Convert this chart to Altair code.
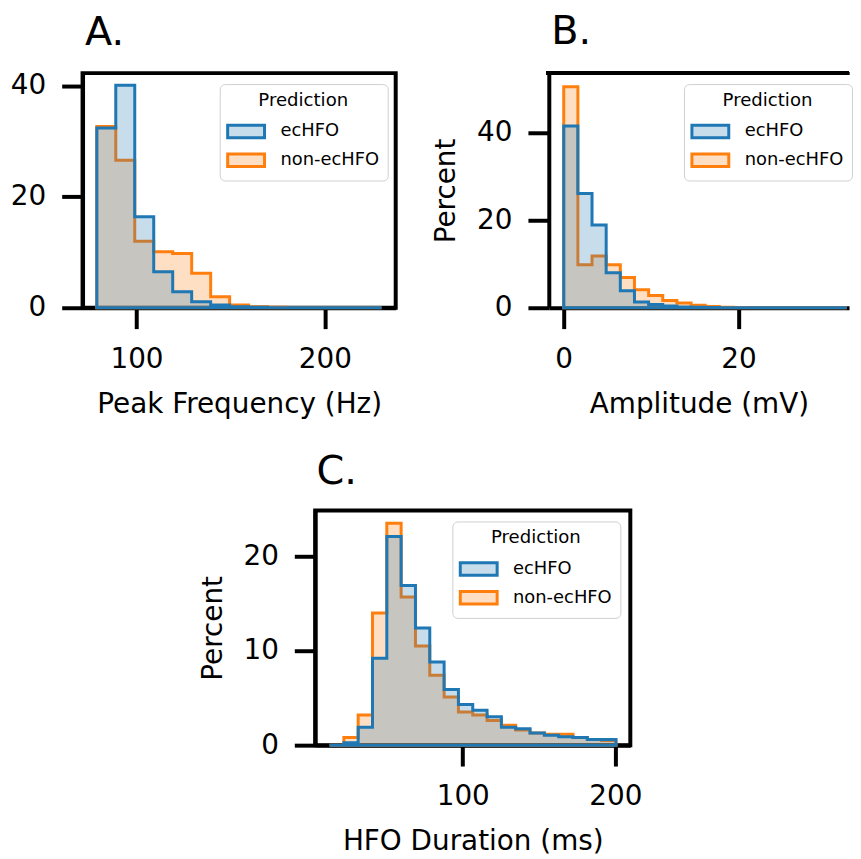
import altair as alt
import pandas as pd

# ---------------- data (percent per histogram bin) ----------------
series_names = ["ecHFO", "non-ecHFO"]
series_colors = ["#1f77b4", "#ff7f0e"]
series_fills = ["rgba(31,119,180,0.25)", "rgba(255,127,14,0.25)"]

# Panel A: Peak Frequency (Hz)
a_start, a_width = 78.9, 10.08
a_echfo = [32.4, 40.1, 16.4, 6.5, 2.9, 1.1, 0.5, 0.2, 0.1, 0.0, 0.0, 0.0, 0.0, 0.0, 0.0]
a_non = [32.7, 26.6, 12.0, 10.1, 9.8, 6.2, 2.0, 0.5, 0.2, 0.1, 0.0, 0.0, 0.0, 0.0, 0.0]
a_xdomain = [71.34, 237.66]
a_ydomain = [0, 42.3]
a_xticks = [100, 200]
a_yticks = [0, 20, 40]

# Panel B: Amplitude (mV)
b_start, b_width = 0.0, 1.62
b_echfo = [41.5, 26.1, 18.9, 8.0, 3.9, 1.3, 0.75, 0.4, 0.2, 0.1, 0.05, 0.0,
           0.0, 0.0, 0.0, 0.0, 0.0, 0.0, 0.0, 0.0]
b_non = [50.5, 9.8, 11.8, 9.8, 6.9, 4.1, 2.8, 1.65, 1.1, 0.6, 0.3, 0.1,
         0.05, 0.0, 0.0, 0.0, 0.0, 0.0, 0.0, 0.0]
b_xdomain = [-1.71, 32.67]
b_ydomain = [0, 53.6]
b_xticks = [0, 20]
b_yticks = [0, 20, 40]

# Panel C: HFO Duration (ms)
c_start, c_width = 12.7, 9.385
c_echfo = [0.0, 0.25, 1.9, 9.2, 22.1, 16.9, 12.4, 8.8, 5.9, 4.3, 3.7, 3.0,
           1.9, 1.75, 1.3, 1.05, 0.9, 0.8, 0.6, 0.6]
c_non = [0.0, 0.8, 3.2, 14.0, 23.5, 15.7, 10.5, 7.4, 5.1, 3.5, 3.2, 2.6,
         2.1, 1.6, 1.3, 1.15, 1.15, 0.8, 0.6, 0.5]
c_xdomain = [3.3, 209.8]
c_ydomain = [0, 24.85]
c_xticks = [100, 200]
c_yticks = [0, 10, 20]

FONT = "DejaVu Sans"
PH = 236


def build_df(start, width, ec, non):
    rows = []
    for name, vals in (("non-ecHFO", non), ("ecHFO", ec)):
        for i, v in enumerate(vals):
            rows.append({"x": start + i * width, "pct": v, "series": name})
        rows.append({"x": start + len(vals) * width, "pct": vals[-1], "series": name})
    return pd.DataFrame(rows)


def make_legend(lx):
    return alt.Legend(
        title="Prediction", orient="none", legendX=lx, legendY=11,
        symbolType="M-2.06,-0.7H2.06V0.7H-2.06Z", symbolSize=324, symbolStrokeWidth=3,
        symbolOffset=8,
        labelFont=FONT, labelFontSize=18, labelColor="black", labelOffset=24,
        labelAlign="left",
        titleFont=FONT, titleFontSize=18.2, titleFontWeight="normal", titleColor="black",
        titleAnchor="middle", titlePadding=11, rowPadding=4, padding=8,
        fillColor="white", strokeColor="#d0d0d0", cornerRadius=5,
    )


def panel(df, letter, title_dx, xtitle, ytitle, xdomain, ydomain, xticks, yticks, width,
          legend_x, top_rule=False):
    base = alt.Chart(df)
    layers = []
    for name in ["non-ecHFO", "ecHFO"]:
        layer = base.transform_filter(alt.datum.series == name).mark_area(
            interpolate="step-after", strokeWidth=3
        ).encode(
            x=alt.X("x:Q", scale=alt.Scale(domain=xdomain, nice=False, zero=False),
                    axis=alt.Axis(values=xticks, title=xtitle, labelFlush=False)),
            y=alt.Y("pct:Q", scale=alt.Scale(domain=ydomain, nice=False),
                    axis=alt.Axis(values=yticks, title=ytitle, labelFlush=False)),
            fill=alt.Fill("series:N", scale=alt.Scale(domain=series_names, range=series_fills),
                          legend=make_legend(legend_x)),
            stroke=alt.Stroke("series:N", scale=alt.Scale(domain=series_names, range=series_colors),
                              legend=make_legend(legend_x)),
        )
        layers.append(layer)
    props = dict(
        width=width, height=PH,
        title=alt.TitleParams(letter, anchor="start", dx=title_dx, offset=-21,
                              baseline="bottom"),
    )
    if top_rule:
        # top frame line (the right frame edge lies outside the reference picture)
        layers.append(base.mark_rule(color="black", strokeWidth=4).encode(
            x=alt.value(-2), x2=alt.value(width), y=alt.value(0)))
        props["view"] = alt.ViewBackground(strokeOpacity=0)
    return alt.layer(*layers).properties(**props)


chartA = panel(build_df(a_start, a_width, a_echfo, a_non), "A.", 75, "Peak Frequency (Hz)", None,
               a_xdomain, a_ydomain, a_xticks, a_yticks, 315, 138)
chartB = panel(build_df(b_start, b_width, b_echfo, b_non), "B.", 119, "Amplitude (mV)", "Percent",
               b_xdomain, b_ydomain, b_xticks, b_yticks, 302, 136, top_rule=True)
chartC = panel(build_df(c_start, c_width, c_echfo, c_non), "C.", 118, "HFO Duration (ms)", "Percent",
               c_xdomain, c_ydomain, c_xticks, c_yticks, 317, 138)

spacer = alt.Chart(pd.DataFrame({"v": [0]})).mark_point(opacity=0, size=1).encode(
    x=alt.value(5), y=alt.value(5)
).properties(width=115, height=10, view=alt.ViewBackground(strokeOpacity=0))

top = alt.hconcat(chartA, chartB, spacing=35).resolve_scale(fill="independent", stroke="independent")
bottom = alt.hconcat(spacer, chartC, spacing=0).resolve_scale(fill="independent", stroke="independent")

chart = alt.vconcat(top, bottom, spacing=30).resolve_scale(
    fill="independent", stroke="independent"
).properties(
    padding={"left": 0, "top": 0, "right": 0, "bottom": 0}
).configure_view(
    stroke="black", strokeWidth=4
).configure_axis(
    domainColor="black", domainWidth=4, tickColor="black", tickWidth=4, tickSize=21,
    labelFont=FONT, labelFontSize=28, labelColor="black",
    titleFont=FONT, titleFontSize=28, titleFontWeight="normal", titleColor="black",
    grid=False, zindex=1,
).configure_axisX(labelPadding=17, titlePadding=17).configure_axisY(
    labelPadding=16, titlePadding=16
).configure_title(
    font=FONT, fontSize=40, fontWeight="normal", color="black"
)

chart.save("out.html", embed_options={"renderer": "svg", "actions": False})
